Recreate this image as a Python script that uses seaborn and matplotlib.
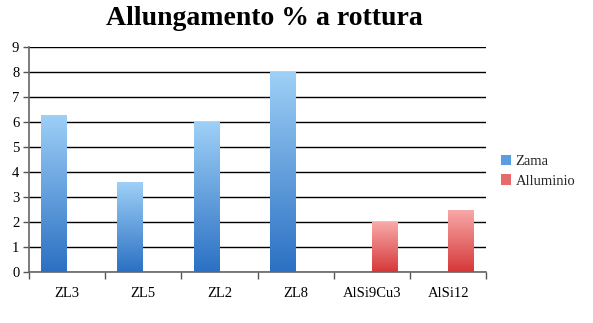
import numpy as np
import pandas as pd
import matplotlib
matplotlib.use("Agg")
import matplotlib.pyplot as plt
import seaborn as sns
from matplotlib.colors import LinearSegmentedColormap
from matplotlib.patches import Patch

categories = ["ZL3", "ZL5", "ZL2", "ZL8", "AlSi9Cu3", "AlSi12"]
series_names = ["Zama", "Alluminio"]
zama_values = [6.3, 3.6, 6.0, 8.0, None, None]
alluminio_values = [None, None, None, None, 2.0, 2.5]
y_ticks = list(range(0, 10))

rows = []
for c, z, a in zip(categories, zama_values, alluminio_values):
    if z is not None:
        rows.append({"cat": c, "val": z, "serie": "Zama"})
    if a is not None:
        rows.append({"cat": c, "val": a, "serie": "Alluminio"})
df = pd.DataFrame(rows)

sns.set_theme(style="white")
plt.rcParams["font.family"] = ["Liberation Serif", "DejaVu Serif"]

fig = plt.figure(figsize=(5.93, 3.23), dpi=100)
ax = fig.add_axes([0.049, 0.158, 0.771, 0.696])

blue_mid = "#4a8fd8"
red_mid = "#e05a5a"
sns.barplot(data=df, x="cat", y="val", hue="serie", order=categories,
            hue_order=series_names, palette=[blue_mid, red_mid],
            width=0.68, dodge=True, ax=ax, legend=False, saturation=1)

cmaps = {
    "Zama": LinearSegmentedColormap.from_list("b", ["#2b70c3", "#9ed0f7"]),
    "Alluminio": LinearSegmentedColormap.from_list("r", ["#d63838", "#f8aaaa"]),
}
grad = np.linspace(0, 1, 256).reshape(-1, 1)
for cont, name in zip(ax.containers, series_names):
    for p in cont.patches:
        h = p.get_height()
        if not np.isfinite(h) or h == 0:
            continue
        x0 = p.get_x(); w = p.get_width()
        im = ax.imshow(grad, cmap=cmaps[name], origin="lower", aspect="auto",
                       extent=[x0, x0 + w, 0, h], zorder=3)
        im.set_clip_path(p)
        p.set_facecolor("none")
        p.set_edgecolor("none")
ax.set_xlim(-0.5, len(categories) - 0.5)
ax.set_ylim(0, 9)
ax.set_aspect("auto")

ax.set_yticks(y_ticks)
ax.grid(axis="y", color="black", linewidth=1.0, zorder=1)
ax.grid(axis="x", visible=False)
ax.set_axisbelow(True)

ax.set_xticks(range(len(categories)))
ax.set_xticklabels(categories)
ax.set_xticks(np.arange(-0.5, len(categories)), minor=True)
ax.tick_params(which="both", bottom=True, left=True)
ax.tick_params(axis="x", which="major", length=0, pad=11, labelsize=10.5, labelcolor="black")
ax.tick_params(axis="x", which="minor", length=5, width=1, color="#555555", direction="out")
ax.tick_params(axis="y", which="major", length=4, width=1, color="#555555",
               direction="out", labelsize=10.5, labelcolor="black", pad=3)

for s in ["top", "right"]:
    ax.spines[s].set_visible(False)
for s in ["left", "bottom"]:
    ax.spines[s].set_visible(True)
    ax.spines[s].set_color("#666666")
    ax.spines[s].set_linewidth(1.2)

ax.set_xlabel("")
ax.set_ylabel("")

fig.suptitle("Allungamento % a rottura", x=0.445, y=0.98,
             fontsize=20, fontweight="bold", color="black")

handles = [Patch(facecolor="#5c9de0", edgecolor="none", label="Zama"),
           Patch(facecolor="#e66a6a", edgecolor="none", label="Alluminio")]
fig.legend(handles=handles, loc="center left", bbox_to_anchor=(0.835, 0.47),
           frameon=False, fontsize=10.5, handlelength=0.7, handleheight=0.7,
           handletextpad=0.3, labelspacing=0.45, borderaxespad=0)

fig.savefig("out.png", dpi=100)
